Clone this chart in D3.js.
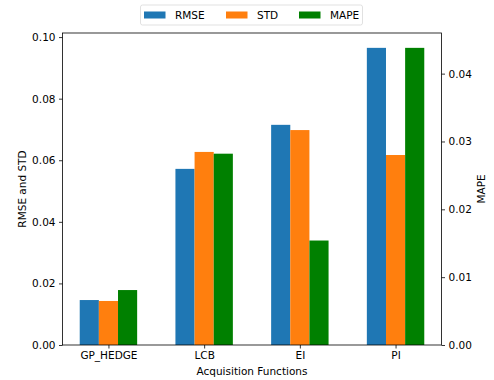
<!DOCTYPE html>
<html>
<head>
<meta charset="utf-8">
<script src="https://cdn.jsdelivr.net/npm/d3@7"></script>
<style>
  body { margin: 0; background: #fff; }
  text { font-family: "DejaVu Sans", sans-serif; fill: #000; }
</style>
</head>
<body>
<div id="chart"></div>
<script>
// Data
const categories = ["GP_HEDGE", "LCB", "EI", "PI"];
const rmse = [0.0146, 0.0572, 0.0715, 0.0965];
const std = [0.0143, 0.0627, 0.0698, 0.0617];
const mape = [0.0081, 0.0282, 0.0154, 0.0438];
const leftTicks = [0, 0.02, 0.04, 0.06, 0.08, 0.10];
const rightTicks = [0, 0.01, 0.02, 0.03, 0.04];

const W = 494, H = 380;
const plot = { left: 62.5, right: 441.5, top: 33, bottom: 345 };
const fs = "10.5px";

const svg = d3.select("#chart").append("svg")
    .attr("width", W)
    .attr("height", H);

// Scales: x in category units (bars 0.2 wide), matplotlib-like margins
const x = d3.scaleLinear().domain([-0.48, 3.48]).range([plot.left, plot.right]);
const yL = d3.scaleLinear().domain([0, d3.max(rmse) * 1.05]).range([plot.bottom, plot.top]);
const yR = d3.scaleLinear().domain([0, d3.max(mape) * 1.05]).range([plot.bottom, plot.top]);
const bw = 0.2;

const series = [
    { name: "RMSE", values: rmse, color: "#1f77b4", offset: -bw, y: yL },
    { name: "STD", values: std, color: "#ff7f0e", offset: 0, y: yL },
    { name: "MAPE", values: mape, color: "#008000", offset: bw, y: yR }
];

// Bars
series.forEach(s => {
    svg.append("g")
        .selectAll("rect")
        .data(s.values)
        .enter()
        .append("rect")
        .attr("x", (d, i) => x(i + s.offset - bw / 2))
        .attr("width", x(bw) - x(0))
        .attr("y", d => s.y(d))
        .attr("height", d => plot.bottom - s.y(d))
        .attr("fill", s.color);
});

// Axes
const fmt2 = d3.format(".2f");
svg.append("g")
    .attr("transform", `translate(${plot.left},0)`)
    .call(d3.axisLeft(yL).tickValues(leftTicks).tickFormat(fmt2).tickSize(3.5).tickPadding(3.5))
    .call(g => g.select(".domain").remove());

svg.append("g")
    .attr("transform", `translate(${plot.right},0)`)
    .call(d3.axisRight(yR).tickValues(rightTicks).tickFormat(fmt2).tickSize(3.5).tickPadding(3.5))
    .call(g => g.select(".domain").remove());

svg.append("g")
    .attr("transform", `translate(0,${plot.bottom})`)
    .call(d3.axisBottom(x).tickValues(d3.range(categories.length)).tickFormat(i => categories[i]).tickSize(3.5).tickPadding(3.5))
    .call(g => g.select(".domain").remove());

svg.selectAll(".tick text").style("font-size", fs).style("font-family", "DejaVu Sans, sans-serif");
svg.selectAll(".tick line").attr("stroke", "#000").attr("stroke-width", 0.8);

// Frame
svg.append("rect")
    .attr("x", plot.left)
    .attr("y", plot.top)
    .attr("width", plot.right - plot.left)
    .attr("height", plot.bottom - plot.top)
    .attr("fill", "none")
    .attr("stroke", "#000")
    .attr("stroke-width", 0.8);

// Axis labels
svg.append("text")
    .attr("transform", `translate(25.5,${(plot.top + plot.bottom) / 2}) rotate(-90)`)
    .attr("text-anchor", "middle")
    .style("font-size", fs)
    .text("RMSE and STD");

svg.append("text")
    .attr("transform", `translate(484.5,${(plot.top + plot.bottom) / 2}) rotate(-90)`)
    .attr("text-anchor", "middle")
    .style("font-size", fs)
    .text("MAPE");

svg.append("text")
    .attr("x", (plot.left + plot.right) / 2)
    .attr("y", 375)
    .attr("text-anchor", "middle")
    .style("font-size", fs)
    .text("Acquisition Functions");

// Legend
const legend = svg.append("g");
legend.append("rect")
    .attr("x", 140.5)
    .attr("y", 5)
    .attr("width", 222)
    .attr("height", 20)
    .attr("rx", 2)
    .attr("fill", "#fff")
    .attr("stroke", "#d9d9d9")
    .attr("stroke-width", 0.8);

const legendX = [144, 226, 299];
series.forEach((s, i) => {
    legend.append("rect")
        .attr("x", legendX[i])
        .attr("y", 11.5)
        .attr("width", 21.5)
        .attr("height", 7)
        .attr("fill", s.color);
    legend.append("text")
        .attr("x", legendX[i] + 31)
        .attr("y", 19)
        .style("font-size", fs)
        .text(s.name);
});
</script>
</body>
</html>
